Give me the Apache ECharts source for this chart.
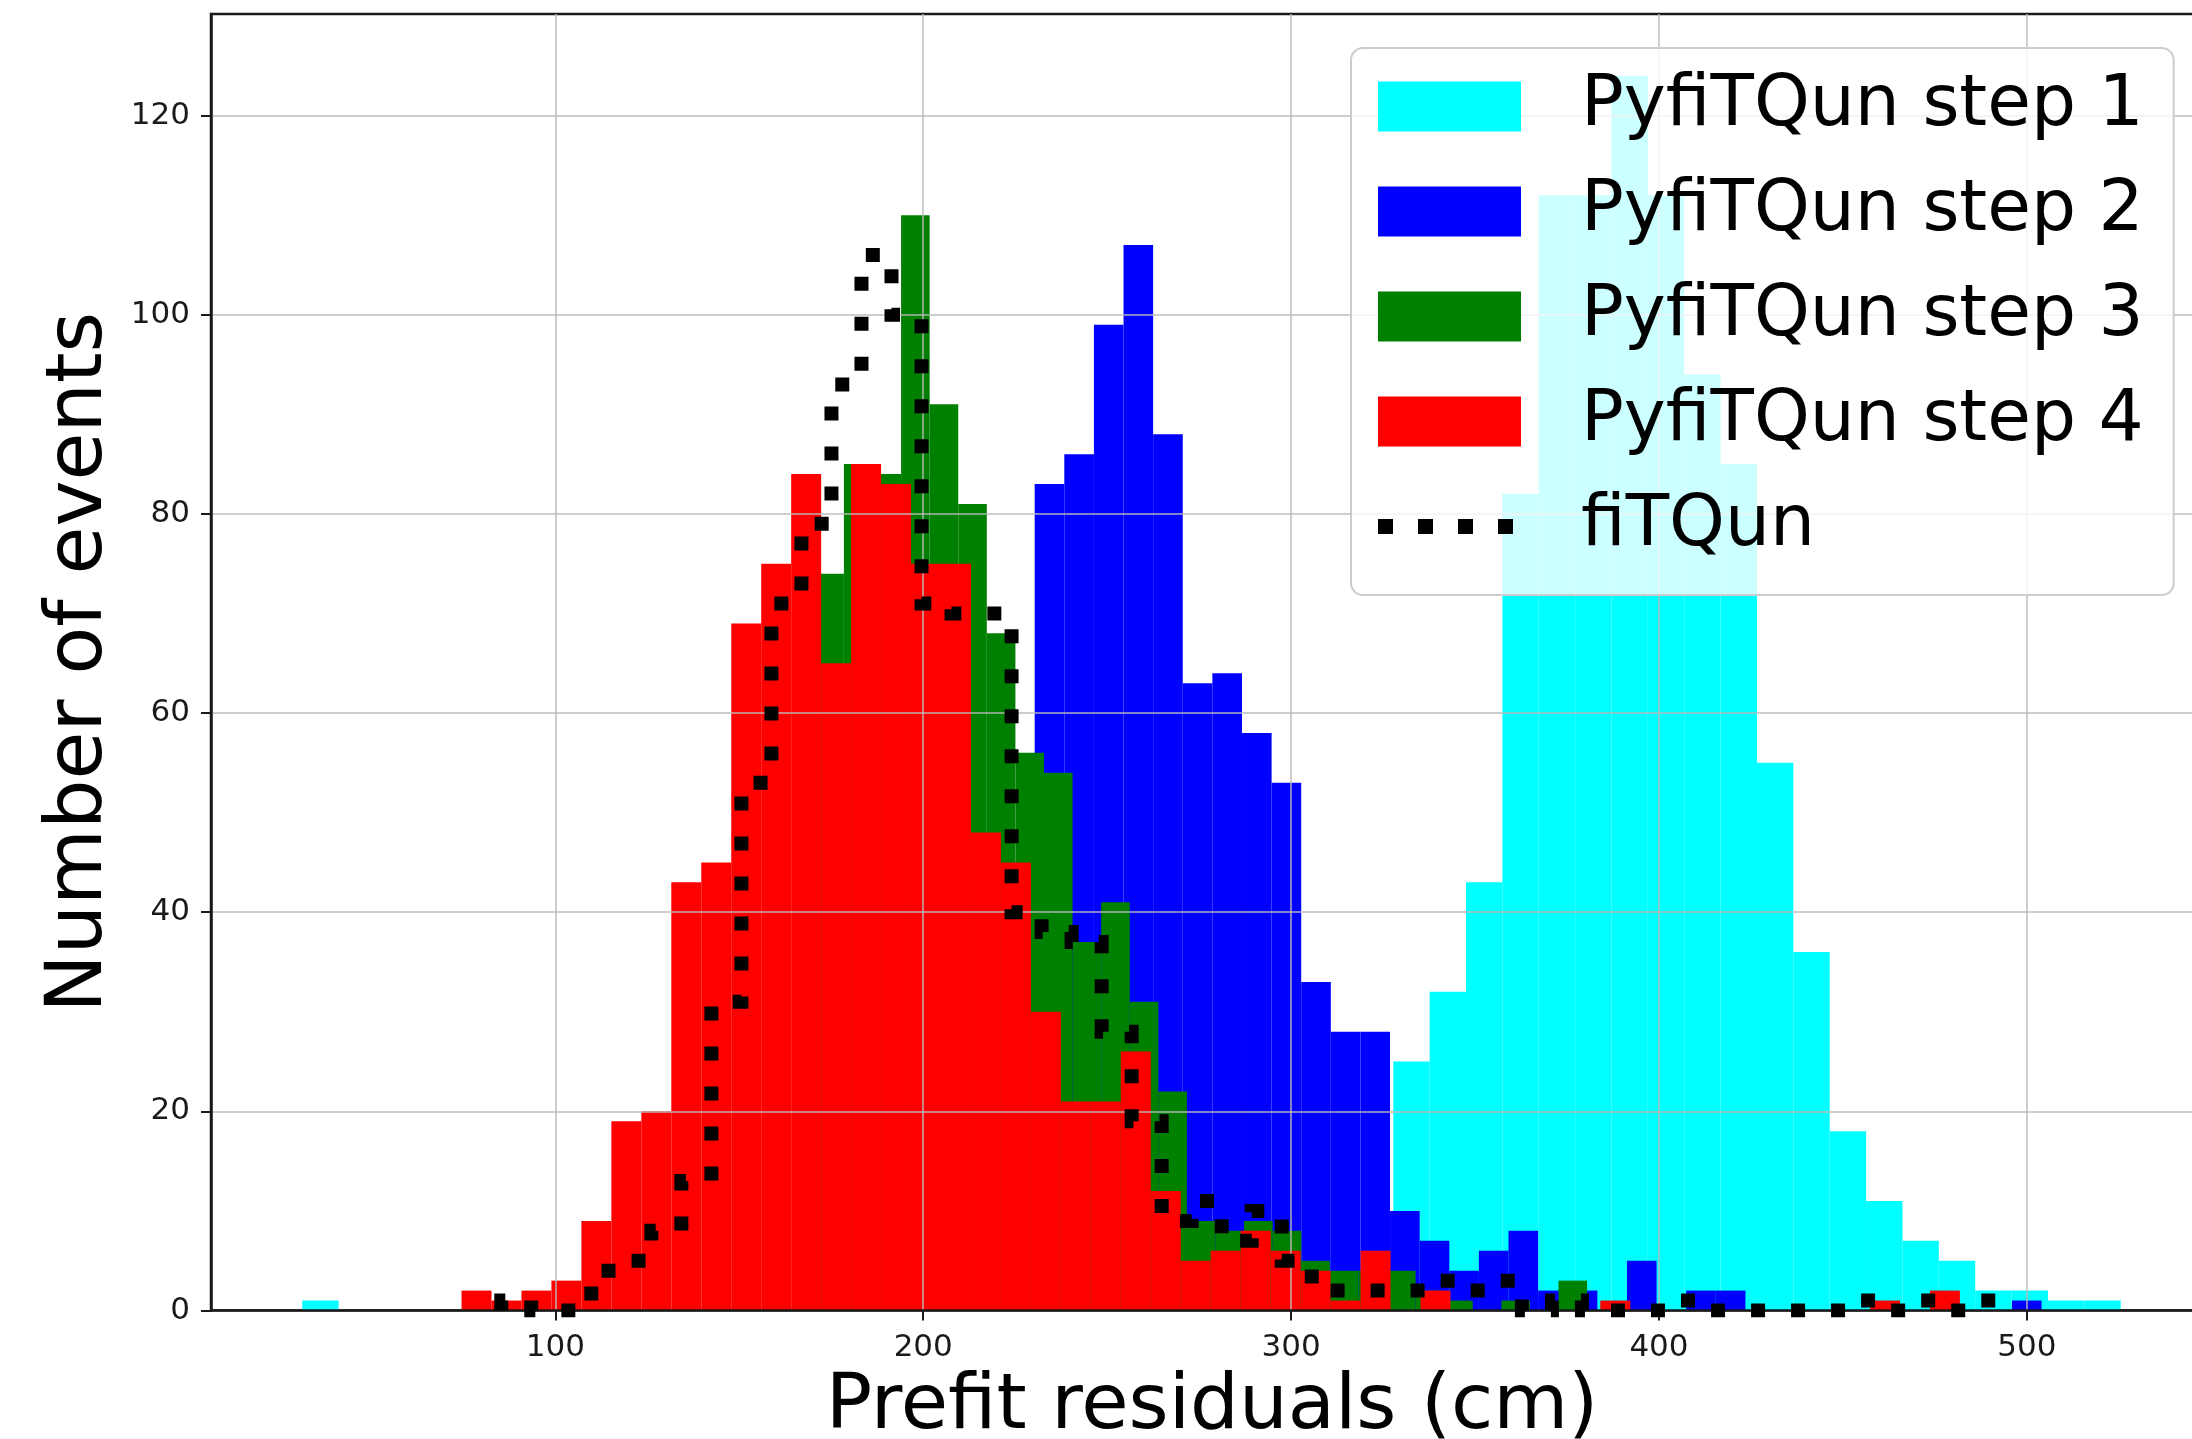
<!DOCTYPE html>
<html>
<head>
<meta charset="utf-8">
<title>Prefit residuals</title>
<script src="https://cdn.jsdelivr.net/npm/echarts@6.0.0/dist/echarts.min.js"></script>
<style>
  html, body { margin: 0; padding: 0; background: #ffffff; }
  #chart { width: 2192px; height: 1439px; }
</style>
</head>
<body>
<div id="chart"></div>
<script>
// Each histogram uses 50 equal bins spread over its own [low, high] range.
const binCount = 50;

const step1Range = [31.2, 525.5];
const step1Counts = [1, 0, 0, 0, 0, 0, 0, 0, 0, 0,
  0, 0, 0, 0, 0, 0, 0, 0, 0, 0,
  0, 0, 0, 0, 0, 0, 0, 0, 0, 0,
  25, 32, 43, 82, 112, 112, 124, 112, 94, 85,
  55, 36, 18, 11, 7, 5, 2, 2, 1, 1];

const step2Range = [101.5, 504.0];
const step2Counts = [0, 0, 0, 0, 0, 0, 0, 0, 0, 0,
  0, 0, 0, 0, 0, 0, 83, 86, 99, 107,
  88, 63, 64, 58, 53, 33, 28, 28, 10, 7,
  4, 6, 8, 2, 2, 0, 5, 0, 2, 2,
  0, 0, 0, 0, 0, 0, 0, 0, 0, 1];

const step3Range = [85.2, 473.7];
const step3Counts = [0, 0, 0, 0, 0, 0, 0, 0, 0, 0,
  0, 74, 85, 84, 110, 91, 81, 68, 56, 54,
  37, 41, 31, 22, 9, 8, 9, 8, 5, 4,
  4, 4, 2, 1, 0, 1, 0, 3, 0, 0,
  0, 0, 0, 0, 0, 0, 0, 0, 0, 0];

const step4Range = [74.5, 481.8];
const step4Counts = [2, 1, 2, 3, 9, 19, 20, 43, 45, 69,
  75, 84, 65, 85, 83, 75, 75, 48, 45, 30,
  21, 21, 26, 12, 5, 6, 8, 6, 4, 1,
  6, 0, 2, 0, 0, 0, 0, 0, 1, 0,
  0, 0, 0, 0, 0, 0, 0, 1, 0, 2];

const fitqunRange = [85.3, 493.3];
const fitqunCounts = [1, 0, 0, 4, 5, 8, 13, 31, 53, 71,
  79, 93, 106, 100, 71, 70, 70, 40, 38, 37,
  28, 19, 9, 11, 7, 10, 5, 2, 2, 2,
  2, 3, 2, 3, 0, 1, 0, 0, 0, 1,
  0, 0, 0, 0, 0, 1, 0, 1, 0, 1];

const seriesNames = ['PyfiTQun step 1', 'PyfiTQun step 2', 'PyfiTQun step 3', 'PyfiTQun step 4', 'fiTQun'];
const seriesColors = ['#00ffff', '#0000ff', '#008000', '#ff0000', '#000000'];

const xTicks = [100, 200, 300, 400, 500];
const yTicks = [0, 20, 40, 60, 80, 100, 120];

const FONT = 'DejaVu Sans';

// [binStart, binEnd, count] rows for a filled histogram
function binRows(range, counts) {
  const w = (range[1] - range[0]) / counts.length;
  return counts.map((c, i) => [range[0] + i * w, range[0] + (i + 1) * w, c]);
}

// Outline points of a step histogram: up from the base, across every bin, back down
function outlinePoints(range, counts) {
  const w = (range[1] - range[0]) / counts.length;
  const pts = [[range[0], 0]];
  counts.forEach((c, i) => pts.push([range[0] + i * w, c]));
  pts.push([range[1], counts[counts.length - 1]]);
  pts.push([range[1], 0]);
  return pts;
}

function renderBin(params, api) {
  const c = api.value(2);
  if (!c) return null;
  const topLeft = api.coord([api.value(0), c]);
  const bottomRight = api.coord([api.value(1), 0]);
  return {
    type: 'rect',
    shape: {
      x: topLeft[0],
      y: topLeft[1],
      width: bottomRight[0] - topLeft[0],
      height: bottomRight[1] - topLeft[1]
    },
    style: { fill: api.visual('color') }
  };
}

function histSeries(idx, range, counts) {
  return {
    type: 'custom',
    name: seriesNames[idx],
    renderItem: renderBin,
    encode: { x: [0, 1], y: 2 },
    itemStyle: { color: seriesColors[idx] },
    data: binRows(range, counts),
    z: 2,
    animation: false,
    silent: true
  };
}

const chart = echarts.init(document.getElementById('chart'), null, { renderer: 'canvas' });

const gridLine = { color: 'rgba(185,185,185,0.7)', width: 2 };

const option = {
  backgroundColor: '#ffffff',
  animation: false,
  grid: {
    left: 211,
    top: 14,
    right: -21,
    bottom: 128.5,
    outerBoundsMode: 'none',
    containLabel: false,
    show: true,
    borderColor: '#1a1a1a',
    borderWidth: 2.5,
    backgroundColor: 'transparent'
  },
  xAxis: {
    type: 'value',
    min: 6.4,
    max: 550.6,
    z: 3,
    axisLine: { show: true, onZero: false, lineStyle: { color: '#1a1a1a', width: 2.5 } },
    axisTick: { show: true, customValues: xTicks, length: 10, lineStyle: { color: '#1a1a1a', width: 2 } },
    axisLabel: { customValues: xTicks, margin: 22, fontFamily: FONT, fontSize: 31, color: '#1a1a1a' },
    splitLine: { show: true, lineStyle: gridLine },
    name: 'Prefit residuals (cm)',
    nameLocation: 'middle',
    nameGap: 59,
    nameTextStyle: { fontFamily: FONT, fontSize: 77, color: '#000000' }
  },
  yAxis: {
    type: 'value',
    min: 0,
    max: 130.2,
    z: 3,
    axisLine: { show: true, onZero: false, lineStyle: { color: '#1a1a1a', width: 2.5 } },
    axisTick: { show: true, customValues: yTicks, length: 10, lineStyle: { color: '#1a1a1a', width: 2 } },
    axisLabel: { customValues: yTicks, margin: 21, fontFamily: FONT, fontSize: 31, color: '#1a1a1a' },
    splitLine: { show: true, lineStyle: gridLine },
    name: 'Number of events',
    nameLocation: 'middle',
    nameGap: 83,
    nameTextStyle: { fontFamily: FONT, fontSize: 78, color: '#000000' }
  },
  legend: {
    orient: 'vertical',
    left: 1351,
    top: 48,
    padding: [18, 30, 28, 27],
    itemWidth: 143,
    itemHeight: 50,
    itemGap: 24,
    backgroundColor: 'rgba(255,255,255,0.8)',
    borderColor: '#cccccc',
    borderWidth: 2,
    borderRadius: 12,
    selectedMode: false,
    z: 10,
    itemStyle: { borderWidth: 0 },
    textStyle: { fontFamily: FONT, fontSize: 71, lineHeight: 71, color: '#000000', padding: [10, 0, 0, 55] },
    data: [
      { name: seriesNames[0], icon: 'rect' },
      { name: seriesNames[1], icon: 'rect' },
      { name: seriesNames[2], icon: 'rect' },
      { name: seriesNames[3], icon: 'rect' },
      { name: seriesNames[4], icon: 'path://M0,0h15v15h-15z M40,0h15v15h-15z M80,0h15v15h-15z M120,0h15v15h-15z M0,0L143,0' }
    ]
  },
  series: [
    histSeries(0, step1Range, step1Counts),
    histSeries(1, step2Range, step2Counts),
    histSeries(2, step3Range, step3Counts),
    histSeries(3, step4Range, step4Counts),
    {
      type: 'line',
      name: seriesNames[4],
      step: 'end',
      data: outlinePoints(fitqunRange, fitqunCounts),
      showSymbol: false,
      symbol: 'none',
      color: seriesColors[4],
      lineStyle: { color: seriesColors[4], width: 14, type: [14, 26], cap: 'butt', join: 'miter' },
      z: 5,
      silent: true,
      animation: false
    }
  ]
};

chart.setOption(option);
</script>
</body>
</html>
